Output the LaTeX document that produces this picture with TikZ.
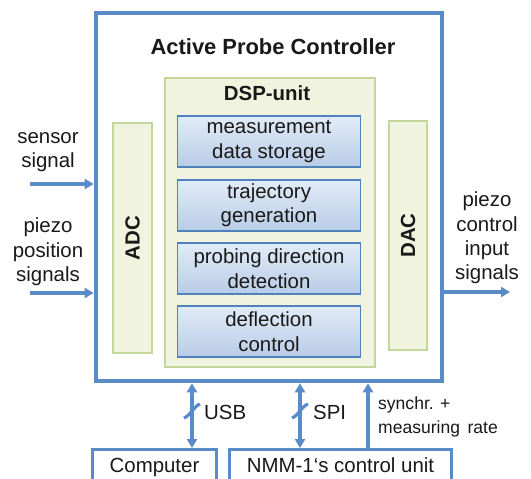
\documentclass[tikz,border=0pt]{standalone}
\usepackage{fontspec}
\setmainfont{Liberation Sans}
\usetikzlibrary{arrows.meta}
\definecolor{bl}{RGB}{88,139,199}
\definecolor{bbord}{RGB}{79,129,189}
\definecolor{gfill}{RGB}{240,244,223}
\definecolor{gbord}{RGB}{196,215,155}
\definecolor{btop}{RGB}{226,235,247}
\definecolor{bbot}{RGB}{184,204,230}
\definecolor{txt}{RGB}{25,25,25}
\begin{document}
\begin{tikzpicture}[x=1bp,y=-1bp,
  lbl/.style={font=\fontsize{20.5}{24.5}\selectfont, text=txt, align=center, inner sep=0},
  blbl/.style={font=\fontsize{20.5}{24.5}\selectfont\bfseries, text=txt, inner sep=0},
  outerbox/.style={draw=bl, line width=4, minimum width=348, minimum height=370, inner sep=0},
  greenbox/.style={draw=gbord, fill=gfill, line width=2, inner sep=0},
  funcbox/.style={draw=bbord, line width=1.5, top color=btop, bottom color=bbot, minimum width=184, minimum height=51, inner sep=0, font=\fontsize{20.5}{24.5}\selectfont, text=txt, align=center},
  lowbox/.style={draw=bl, line width=3, anchor=north, inner xsep=0, inner ysep=8, text height=15, font=\fontsize{20.5}{24.5}\selectfont, text=txt},
  arr/.style={draw=bl, line width=3.2, -{Triangle[length=9,width=10]}},
  biarr/.style={draw=bl, line width=3.2, {Triangle[length=9,width=10]}-{Triangle[length=9,width=10]}},
  slash/.style={draw=bl, line width=3.2}]
\useasboundingbox (0,0) rectangle (531,479);
\clip (0,0) rectangle (531,479);
\fill[white] (0,0) rectangle (531,479);

\node[outerbox] (outer) at (269,197) {};
\node[font=\fontsize{22}{26}\selectfont\bfseries, text=txt, inner sep=0] (title) at (273,47) {Active Probe Controller};

\node[greenbox, minimum width=210, minimum height=291] (dsp) at (270,222.5) {};
\node[blbl] (dsptitle) at (267,93) {DSP-unit};

\node[funcbox] (f1) at (269,141.5) {measurement\\data storage};
\node[funcbox] (f2) at (269,205.5) {trajectory\\generation};
\node[funcbox] (f3) at (269,268.5) {probing direction\\detection};
\node[funcbox] (f4) at (269,331.5) {deflection\\control};

\node[greenbox, minimum width=39, minimum height=230] (adc) at (132.5,238) {};
\node[blbl, rotate=90] (adct) at (adc) {ADC};
\node[greenbox, minimum width=38, minimum height=229] (dac) at (408,235.5) {};
\node[blbl, rotate=90] (dact) at (dac) {DAC};

% side signals
\node[lbl] (sensl) at (48,152) {sensor\\signal};
\node[lbl] (piezl) at (48,252) {piezo\\position\\signals};
\node[lbl] (outl) at (487,238) {piezo\\control\\input\\signals};
\coordinate (sens) at (30,184);
\coordinate (piez) at (30,293);
\coordinate (outend) at (510,292);
\draw[arr] (sens) -- (sens -| outer.west);
\draw[arr] (piez) -- (piez -| outer.west);
\draw[arr] (outend -| outer.east) -- (outend);

% bottom boxes
\node[lowbox, minimum width=125] (comp) at (154.5,448) {Computer};
\node[lowbox, minimum width=223] (nmm) at (340.5,448) {NMM-1‘s control unit};

\coordinate (usbc) at (192,411);
\coordinate (spic) at (300,411);
\coordinate (syn) at (368,411);
\draw[biarr] (usbc |- outer.south) -- (usbc |- comp.north);
\draw[biarr] (spic |- outer.south) -- (spic |- nmm.north);
\draw[arr] (syn |- nmm.north) -- (syn |- outer.south);
\draw[slash] ([shift={(-8,7)}]usbc) .. controls ([shift={(-2,5)}]usbc) and ([shift={(2,-5)}]usbc) .. ([shift={(8,-7)}]usbc);
\draw[slash] ([shift={(-8,7)}]spic) .. controls ([shift={(-2,5)}]spic) and ([shift={(2,-5)}]spic) .. ([shift={(8,-7)}]spic);

\node[lbl, anchor=west] (usbl) at (204,412) {USB};
\node[lbl, anchor=west] (spil) at (313,412) {SPI};
\node[font=\fontsize{17.6}{24}\selectfont, text=txt, align=left, anchor=west, inner sep=0] (synl) at (378,417) {synchr. +\\measuring\hspace{0.15em} rate};
\end{tikzpicture}
\end{document}
